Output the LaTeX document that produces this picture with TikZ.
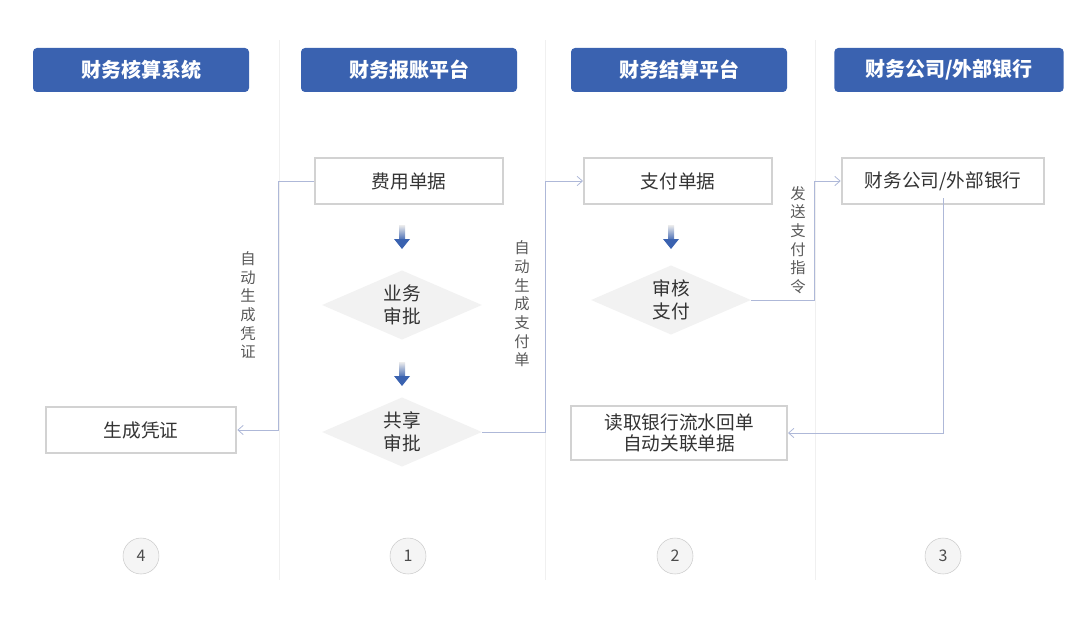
\documentclass[tikz,border=0pt]{standalone}
\usepackage{fontspec}
\setmainfont{Noto Sans CJK SC}
\usetikzlibrary{shapes.geometric,arrows.meta}
\definecolor{hdr}{HTML}{3A62B0}
\definecolor{ln}{HTML}{AEB8D8}
\tikzset{
 hbox/.style={fill=hdr,rounded corners=3pt,text=white,font=\fontsize{15}{17}\selectfont\bfseries},
 wbox/.style={draw=gray!35,line width=1.5pt,fill=white,font=\fontsize{14}{16}\selectfont,text=black!80,align=center},
 dia/.style={diamond,fill=gray!10,aspect=2.3,inner sep=0pt,minimum width=120pt,minimum height=52pt,font=\fontsize{14}{17}\selectfont,text=black!80,align=center},
 conn/.style={draw=ln,line width=0.6pt,-{Straight Barb[length=4pt,width=7pt]}},
 vlab/.style={font=\fontsize{11.5}{14}\selectfont,text=black!65,align=center},
 num/.style={circle,draw=gray!40,fill=gray!8,minimum size=27pt,inner sep=0pt,font=\fontsize{12}{14}\selectfont,text=black!70},
 sep/.style={draw=gray!12,line width=0.5pt},
}
\begin{document}
\begin{tikzpicture}[x=0.75pt,y=-0.75pt]
\useasboundingbox (0,0) rectangle (1080,624);
\foreach \x in {279,545,815} \draw[sep] (\x,40) -- (\x,580);
\node[hbox,minimum width=162pt,minimum height=33pt] (h1) at (141,70) {财务核算系统};
\node[hbox,minimum width=162pt,minimum height=33pt] (h2) at (409,70) {财务报账平台};
\node[hbox,minimum width=162pt,minimum height=33pt] (h3) at (679,70) {财务结算平台};
\node[hbox,minimum width=172pt,minimum height=33pt] (h4) at (949,70) {财务公司/外部银行};
\node[wbox,minimum width=141pt,minimum height=34pt] (fy) at (409,181) {费用单据};
\node[wbox,minimum width=141pt,minimum height=34pt] (zf) at (678,181) {支付单据};
\node[wbox,minimum width=152pt,minimum height=34pt] (yh) at (943,181) {财务公司/外部银行};
\node[wbox,minimum width=143pt,minimum height=34pt] (pz) at (141,430) {生成凭证};
\node[wbox,minimum width=162pt,minimum height=40pt,inner sep=1pt] (dq) at (679,433) {读取银行流水回单\\自动关联单据};
\node[dia] (ywsp) at (402,305) {业务\\审批};
\node[dia] (gxsp) at (402,432) {共享\\审批};
\node[dia] (shzf) at (671,300) {审核\\支付};
\foreach \x/\y in {402/225,402/362,671/225}{
 \shade[top color=gray!15,bottom color=hdr] (\x-3,\y) rectangle (\x+3,\y+16);
 \fill[hdr] (\x-8,\y+14) -- (\x+8,\y+14) -- (\x,\y+24) -- cycle;
}
\draw[conn] (fy.west) -- (278,181) -- (278,430) -- (pz.east);
\draw[conn] (gxsp.east) -- (545,432) -- (545,181) -- (zf.west);
\draw[conn] (shzf.east) -- (814,300) -- (814,181) -- (yh.west);
\draw[conn] (943,198) -- (943,433) -- (dq.east);
\node[vlab] (l1) at (248,305) {自\\动\\生\\成\\凭\\证};
\node[vlab] (l2) at (522,304) {自\\动\\生\\成\\支\\付\\单};
\node[vlab] (l3) at (798,240) {发\\送\\支\\付\\指\\令};
\node[num] (n4) at (141,556) {4};
\node[num] (n1) at (408,556) {1};
\node[num] (n2) at (675,556) {2};
\node[num] (n3) at (943,556) {3};
\end{tikzpicture}
\end{document}
